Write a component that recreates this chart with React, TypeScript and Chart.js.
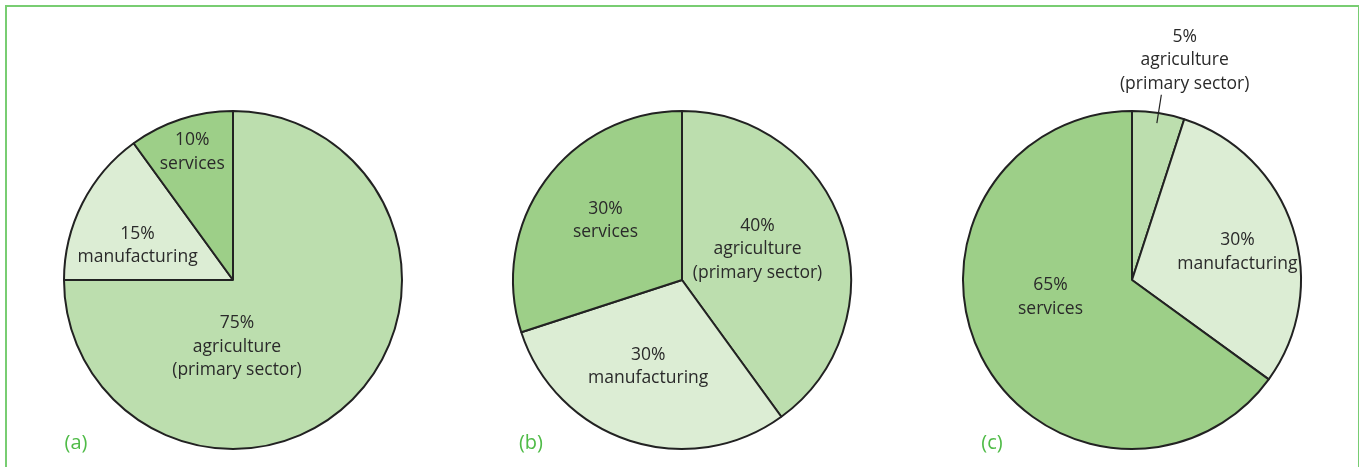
import React, { useEffect, useRef } from "react";
import { Chart, registerables } from "chart.js";

Chart.register(...registerables);

const sectorNames = ["agriculture", "manufacturing", "services"];
const sectorSubtitles = ["(primary sector)", "", ""];
const panelA = [75, 15, 10];
const panelB = [40, 30, 30];
const panelC = [5, 30, 65];
const panelTags = ["(a)", "(b)", "(c)"];

const sectorColors = ["#bcdeae", "#dcedd4", "#9dcf88"];
const R = 170;
// label anchor offsets (px at R=170) relative to pie centre, per panel per slice
const labelOffsets = [
  [[4, 67], [-96, -34.5], [-41, -128.5]],
  [[76, -31], [-34, 87], [-77, -60]],
  [[53, -221], [106, -28], [-82, 17]],
];
// leader line (inner/outer radius fraction) for slices labelled outside
const leaders = [
  [null, null, null],
  [null, null, null],
  [[0.94, 1.11], null, null],
];
const panelCentersX = [233, 682, 1132];
const tagX = [76, 531, 992];

const FONT = '"Open Sans", "Noto Sans", sans-serif';

function makeLabelPlugin(panel: number, values: number[]) {
  return {
    id: "sliceLabels" + panel,
    afterDatasetsDraw(chart: any) {
      const meta = chart.getDatasetMeta(0);
      const ctx = chart.ctx as CanvasRenderingContext2D;
      ctx.save();
      meta.data.forEach((arc: any, i: number) => {
        const { x, y, outerRadius, startAngle, endAngle } = arc.getProps(
          ["x", "y", "outerRadius", "startAngle", "endAngle"],
          true
        );
        const s = outerRadius / R;
        const lx = x + labelOffsets[panel][i][0] * s;
        const ly = y + labelOffsets[panel][i][1] * s;
        const lines = [values[i] + "%", sectorNames[i]];
        if (sectorSubtitles[i]) lines.push(sectorSubtitles[i]);
        const lh = 23.5;
        ctx.fillStyle = "#2a2a2a";
        ctx.font = `17.5px ${FONT}`;
        ctx.textAlign = "center";
        ctx.textBaseline = "middle";
        const startY = lines.length === 3 ? ly - lh : ly - lh / 2;
        lines.forEach((t, k) => ctx.fillText(t, lx, startY + k * lh));
        const ld = leaders[panel][i];
        if (ld) {
          const a = (startAngle + endAngle) / 2;
          ctx.strokeStyle = "#222";
          ctx.lineWidth = 1.2;
          ctx.beginPath();
          ctx.moveTo(x + Math.cos(a) * outerRadius * ld[0], y + Math.sin(a) * outerRadius * ld[0]);
          ctx.lineTo(x + Math.cos(a) * outerRadius * ld[1], y + Math.sin(a) * outerRadius * ld[1]);
          ctx.stroke();
        }
      });
      ctx.restore();
    },
  };
}

function PiePanel({ panel, values }: { panel: number; values: number[] }) {
  const ref = useRef<HTMLCanvasElement | null>(null);
  useEffect(() => {
    if (!ref.current) return;
    const chart = new Chart(ref.current, {
      type: "pie",
      data: {
        labels: sectorNames,
        datasets: [
          {
            data: values,
            backgroundColor: sectorColors,
            borderColor: "#222222",
            borderWidth: 2,
            hoverOffset: 0,
          },
        ],
      },
      options: {
        animation: false,
        responsive: false,
        events: [],
        layout: { padding: { top: 110, bottom: 17, left: 0, right: 0 } },
        plugins: {
          legend: { display: false },
          tooltip: { enabled: false },
          title: { display: false },
        },
      },
      plugins: [makeLabelPlugin(panel, values)],
    });
    return () => chart.destroy();
  }, [panel, values]);
  return (
    <canvas
      ref={ref}
      width={450}
      height={467}
      style={{
        position: "absolute",
        left: panelCentersX[panel] - 225,
        top: 0,
        width: 450,
        height: 467,
      }}
    />
  );
}

export default function App() {
  useEffect(() => {
    document.body.style.margin = "0";
  }, []);
  const panels = [panelA, panelB, panelC];
  return (
    <div
      style={{
        position: "fixed",
        left: 0,
        top: 0,
        width: 1359,
        height: 467,
        overflow: "hidden",
        background: "#ffffff",
      }}
    >
      <div
        style={{
          position: "absolute",
          left: 5,
          top: 5,
          width: 1351,
          height: 520,
          border: "2px solid #78cd72",
        }}
      />
      {panels.map((v, i) => (
        <PiePanel key={i} panel={i} values={v} />
      ))}
      {panelTags.map((t, i) => (
        <div
          key={t}
          style={{
            position: "absolute",
            left: tagX[i] - 30,
            width: 60,
            top: 428,
            textAlign: "center",
            fontFamily: FONT,
            fontSize: 20,
            lineHeight: "28px",
            color: "#4fbb47",
          }}
        >
          {t}
        </div>
      ))}
    </div>
  );
}
